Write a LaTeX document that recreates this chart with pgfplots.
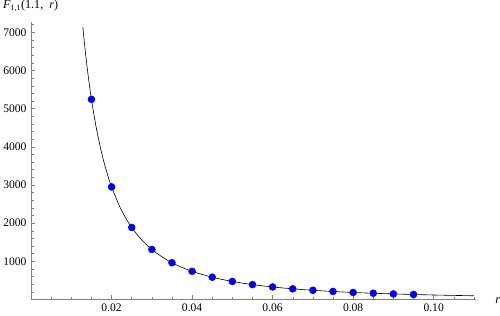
\documentclass[border=0pt]{standalone}
\usepackage{pgfplots}
\pgfplotsset{compat=1.18}
\usepackage{fontspec}
\setmainfont{Liberation Serif}
\definecolor{dotblue}{RGB}{0,0,255}
\definecolor{axgray}{RGB}{128,128,128}
\begin{document}
\begin{tikzpicture}
\begin{axis}[
    scale only axis,
    width=442pt, height=276pt,
    xmin=0, xmax=0.1105,
    ymin=0, ymax=7280,
    axis x line=bottom, axis y line=left,
    axis line style={-, axgray, line width=0.6pt},
    tick style={axgray, line width=0.5pt},
    tick align=inside,
    major tick length=4pt, minor tick length=2.5pt,
    xtick={0.02,0.04,0.06,0.08,0.10},
    xticklabels={0.02,0.04,0.06,0.08,0.10},
    minor xtick={0.005,0.01,0.015,0.025,0.03,0.035,0.045,0.05,0.055,0.065,0.07,0.075,0.085,0.09,0.095,0.105,0.11},
    ytick={1000,2000,3000,4000,5000,6000,7000},
    minor ytick={200,400,600,800,1200,1400,1600,1800,2200,2400,2600,2800,3200,3400,3600,3800,4200,4400,4600,4800,5200,5400,5600,5800,6200,6400,6600,6800,7200},
    scaled x ticks=false, scaled y ticks=false,
    /pgf/number format/assume math mode=true,
    /pgf/number format/1000 sep={},
    ticklabel style={font=\fontsize{11.5}{13}\selectfont, black},
    xticklabel style={yshift=-1pt},
    yticklabel style={xshift=-1pt},
    clip=false,
]
% curve
\addplot[black, line width=0.6pt, smooth] coordinates {
(0.01286,7135)(0.013,6982)(0.0135,6475)(0.014,6020)(0.0145,5612)(0.015,5244)
(0.016,4609)(0.017,4083)(0.018,3642)(0.019,3269)(0.02,2950)(0.022,2438)
(0.024,2049)(0.026,1746)(0.028,1505)(0.03,1311)(0.033,1084)(0.036,910)
(0.04,737.5)(0.045,583)(0.05,472)(0.055,390)(0.06,328)(0.065,279)(0.07,241)
(0.075,210)(0.08,184)(0.085,163)(0.09,146)(0.095,131)(0.1,118)(0.105,107)(0.11,97.5)
};
% sample points
\addplot[only marks, mark=*, mark size=3.5pt, mark options={draw=dotblue, fill=dotblue}] coordinates {
(0.015,5244)(0.02,2950)(0.025,1888)(0.03,1311)(0.035,963)(0.04,737.5)(0.045,583)
(0.05,472)(0.055,390)(0.06,328)(0.065,279)(0.07,241)(0.075,210)(0.08,184)
(0.085,163)(0.09,146)(0.095,131)
};
\node[anchor=south west, inner sep=0pt, font=\fontsize{12}{13}\selectfont]
  at ([xshift=-28pt, yshift=10pt]rel axis cs:0,1)
  {\textit{F}\textsubscript{1,1}(1.1,\ \ \textit{r})};
\node[anchor=west, inner sep=0pt, font=\fontsize{12}{13}\selectfont]
  at ([xshift=19pt, yshift=-1pt]rel axis cs:1,0) {\textit{r}};
\end{axis}
\end{tikzpicture}
\end{document}
